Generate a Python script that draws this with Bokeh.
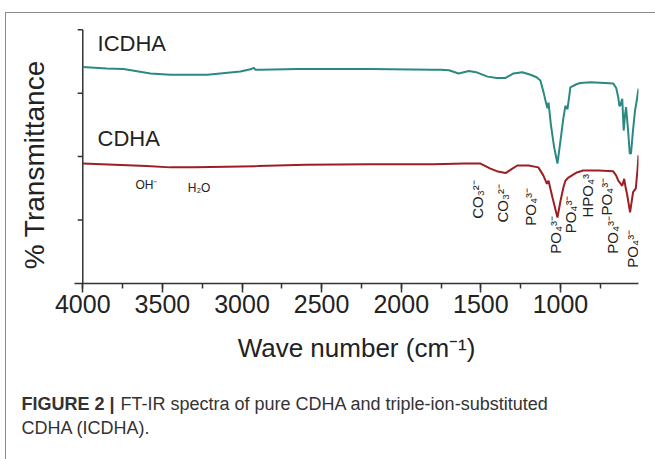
import math

from bokeh.core.properties import value
from bokeh.embed import file_html
from bokeh.layouts import column
from bokeh.models import FixedTicker, Range1d, SingleIntervalTicker
from bokeh.plotting import figure
from bokeh.resources import INLINE

# FT-IR spectra (wavenumber in cm-1, transmittance in arbitrary offset units)
wn_icdha = [4000, 3850, 3744, 3575, 3450, 3217, 3010, 2940, 2928, 2915, 2885,
            2652, 2193, 1800, 1754, 1700, 1640, 1575, 1530, 1458, 1400, 1345,
            1295, 1240, 1188, 1150, 1126, 1105, 1094, 1082, 1075, 1060, 1040,
            1019, 1000, 981, 969, 960, 956, 945, 938, 900, 875, 812, 720, 668,
            650, 637, 630, 625, 612, 603, 595, 588, 575, 565, 557, 545, 532,
            520, 510]
t_icdha = [3.41, 3.39, 3.38, 3.31, 3.29, 3.29, 3.34, 3.38, 3.40, 3.37, 3.37,
           3.38, 3.38, 3.37, 3.37, 3.36, 3.31, 3.35, 3.33, 3.26, 3.24, 3.24,
           3.31, 3.33, 3.29, 3.25, 3.20, 3.00, 2.88, 2.76, 2.85, 2.50, 2.15,
           1.89, 2.25, 2.62, 2.80, 2.76, 2.75, 2.95, 3.09, 3.14, 3.16, 3.17,
           3.16, 3.15, 3.08, 2.93, 2.80, 2.80, 2.91, 2.41, 2.65, 2.78, 2.40,
           2.05, 2.05, 2.40, 2.72, 2.90, 3.07]

wn_cdha = [4000, 3800, 3600, 3450, 3300, 3100, 2900, 2600, 2200, 1800, 1600,
           1502, 1440, 1400, 1345, 1302, 1271, 1200, 1139, 1107, 1085, 1075,
           1050, 1019, 1000, 981, 969, 950, 897, 858, 760, 670, 650, 637, 612,
           600, 590, 582, 563, 544, 527, 516, 510]
t_cdha = [1.89, 1.87, 1.85, 1.83, 1.83, 1.84, 1.85, 1.87, 1.88, 1.88, 1.89,
          1.89, 1.81, 1.77, 1.74, 1.81, 1.86, 1.86, 1.83, 1.70, 1.57, 1.62,
          1.35, 1.04, 1.30, 1.52, 1.62, 1.67, 1.75, 1.78, 1.78, 1.77, 1.70,
          1.62, 1.54, 1.65, 1.50, 1.41, 1.12, 1.44, 1.50, 1.80, 2.02]

# band assignments, written vertically under the CDHA trace
band_labels = ["CO₃²⁻", "CO₃²⁻", "PO₄³⁻", "PO₄³⁻", "PO₄³⁻", "HPO₄³", "PO₄³⁻",
               "PO₄³⁻", "PO₄³⁻"]
band_wn = [1521, 1364, 1188, 1031, 937, 830, 711, 673, 550]
band_y = [1.02, 0.96, 0.91, 0.47, 0.79, 1.04, 1.07, 0.47, 0.25]

y_ticks = [1, 2, 3, 4]

caption_head = "FIGURE 2 |"
caption_lines = ["FT-IR spectra of pure CDHA and triple-ion-substituted",
                 "CDHA (ICDHA)."]

FONT = "Liberation Sans"
NARROW = "Liberation Sans Narrow, Liberation Sans"
INK = "#222222"
AXIS = "#333333"

p = figure(width=649, height=362, output_backend="svg", toolbar_location=None,
           x_range=Range1d(4052, 510), y_range=Range1d(0, 4.05),
           min_border_left=68, min_border_right=17, min_border_top=13,
           min_border_bottom=92, outline_line_color=None,
           background_fill_color="white", border_fill_color="white")
p.grid.visible = False

# bottom axis
xa = p.xaxis[0]
xa.ticker = SingleIntervalTicker(interval=500, num_minor_ticks=2)
xa.axis_line_color = AXIS
xa.axis_line_width = 1.5
xa.major_tick_line_color = AXIS
xa.minor_tick_line_color = AXIS
xa.major_tick_line_width = 1.5
xa.minor_tick_line_width = 1.5
xa.major_tick_in = 0
xa.major_tick_out = 9
xa.minor_tick_in = 0
xa.minor_tick_out = 5
xa.major_label_text_font = NARROW
xa.major_label_text_font_size = "25px"
xa.major_label_text_color = INK
xa.major_label_standoff = 2
xa.axis_label = "Wave number (cm⁻¹)"
xa.axis_label_text_font = FONT
xa.axis_label_text_font_size = "26px"
xa.axis_label_text_font_style = "normal"
xa.axis_label_text_color = INK
xa.axis_label_standoff = 17

# left axis carries only the title; its line and ticks sit at 4000 cm-1
ya = p.yaxis[0]
ya.ticker = FixedTicker(ticks=[])
ya.axis_line_color = None
ya.major_tick_line_color = None
ya.minor_tick_line_color = None
ya.axis_label = "% Transmittance\u2002\u2009"
ya.axis_label_text_font = FONT
ya.axis_label_text_font_size = "28px"
ya.axis_label_text_font_style = "normal"
ya.axis_label_text_color = INK
ya.axis_label_standoff = 25

p.segment(x0=[4000], y0=[0], x1=[4000], y1=[max(y_ticks)], line_color=AXIS,
          line_width=1.5)
p.segment(x0=[4000] * len(y_ticks), x1=[4032] * len(y_ticks), y0=y_ticks,
          y1=y_ticks, line_color=AXIS, line_width=1.5)

# spectra
p.line(wn_icdha, t_icdha, line_color="#2a8a82", line_width=2)
p.line(wn_cdha, t_cdha, line_color="#9c1f24", line_width=2)

p.text(x=[3907, 3907], y=[3.78, 2.28], text=["ICDHA", "CDHA"],
       text_font=value(FONT), text_font_size="22px", text_color=INK,
       text_baseline="middle", text_align="left")

p.text(x=[3669, 3341], y=[1.56, 1.50], text=["OH⁻", "H₂O"],
       text_font=value(FONT), text_font_size="12px", text_color=INK,
       text_baseline="middle", text_align="left")

p.text(x=band_wn, y=band_y, text=band_labels, angle=math.pi / 2,
       text_font=value(FONT), text_font_size="15px", text_color=INK,
       text_baseline="middle", text_align="left")

# figure caption underneath, laid out in pixel units
cap = figure(width=649, height=84, output_backend="svg", toolbar_location=None,
             x_range=Range1d(0, 649), y_range=Range1d(84, 0), min_border=0,
             outline_line_color=None, background_fill_color="white",
             border_fill_color="white")
cap.axis.visible = False
cap.grid.visible = False
cap.text(x=[15], y=[28], text=[caption_head], text_font=value(FONT),
         text_font_size="18px", text_font_style="bold", text_color="#333333",
         text_baseline="middle", text_align="left")
cap.text(x=[114, 15], y=[28, 52], text=caption_lines, text_font=value(FONT),
         text_font_size="18px", text_color="#333333", text_baseline="middle",
         text_align="left")

# keep the caption panel full width instead of lining it up with the chart frame
for fig in (p, cap):
    if "frame_align" in fig.properties():
        fig.frame_align = False

page = column(p, cap, spacing=0)
page.margin = (12, 0, 0, 5)
page.styles = {"border-top": "1px solid #8a8a8a",
               "border-left": "1px solid #8a8a8a"}

open("out.html", "w").write(file_html(page, INLINE))
